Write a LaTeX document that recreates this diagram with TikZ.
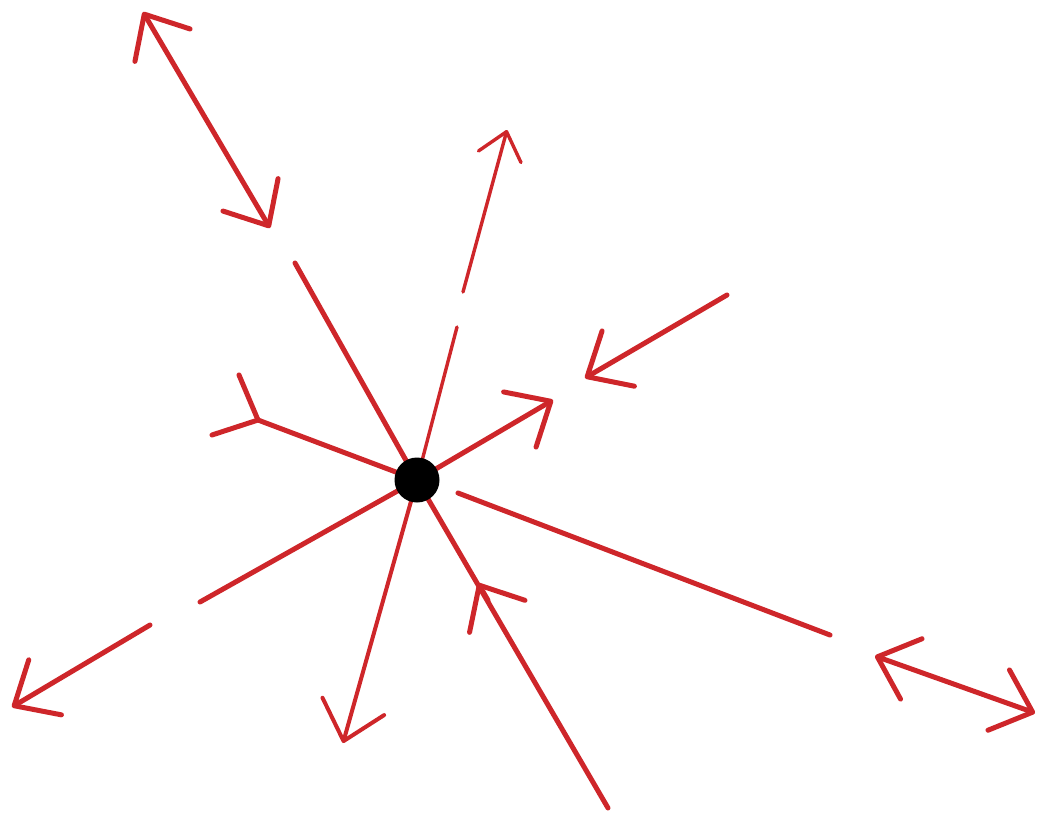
\documentclass[tikz,border=0pt]{standalone}
\usetikzlibrary{arrows.meta,calc}
\definecolor{vred}{RGB}{206,38,42}
\begin{document}
\begin{tikzpicture}[x=1pt,y=-1pt,
  ray/.style={draw=vred, line width=5pt, line cap=round, line join=round},
  thinray/.style={ray, line width=3.4pt},
  midray/.style={ray, line width=4pt},
  bigtip/.style={-{Straight Barb[length=36pt,width=64pt,round]}},
  bigtips/.style={{Straight Barb[length=36pt,width=64pt,round]}-{Straight Barb[length=36pt,width=64pt,round]}},
  smalltip/.style={-{Straight Barb[length=26pt,width=44pt,round]}},
  dot/.style={circle, fill=black, minimum size=45pt, inner sep=0pt}
]
\useasboundingbox (0,0) rectangle (1038,814);
\coordinate (o) at (417,480);
% points
\coordinate (ulin) at (295,263);
\coordinate (ula) at (270,228);
\coordinate (ulb) at (143,12);
\coordinate (upin) at (457,327);
\coordinate (upa) at (463,292);
\coordinate (upb) at (507,130);
\coordinate (urtip) at (553,400);
\coordinate (ina) at (727,295);
\coordinate (inb) at (585,378);
\coordinate (fork) at (258,420);
\coordinate (pr1) at (212,435);
\coordinate (pr2) at (239,375);
\coordinate (llin) at (200,602);
\coordinate (lla) at (150,625);
\coordinate (llb) at (12,707);
\coordinate (dtip) at (343,743);
\coordinate (dr) at (608,808);
\coordinate (m) at (478,583);
\coordinate (ra) at (458,493);
\coordinate (rb) at (830,635);
\coordinate (rda) at (875,656);
\coordinate (rdb) at (1035,713);
% upper left
\draw[ray] (o) -- (ulin);
\draw[ray, bigtips] (ula) -- (ulb);
% up (thin)
\draw[thinray] (o) -- (upin);
\draw[thinray, smalltip] (upa) -- (upb);
% upper right
\draw[ray, bigtip] (o) -- (urtip);
\draw[ray, bigtip] (ina) -- (inb);
% left fork
\draw[ray] (o) -- (fork) -- (pr1);
\draw[ray] (fork) -- (pr2);
% lower left
\draw[ray] (o) -- (llin);
\draw[ray, bigtip] (lla) -- (llb);
% down
\draw[midray, bigtip] (o) -- (dtip);
% down right with mid arrow
\draw[ray] (dr) -- (o);
\draw[ray, bigtip] ($(m)!20pt!(dr)$) -- (m);
% right
\draw[ray] (ra) -- (rb);
\draw[ray, bigtips] (rda) -- (rdb);
% centre dot
\node[dot] (c) at (o) {};
\end{tikzpicture}
\end{document}
